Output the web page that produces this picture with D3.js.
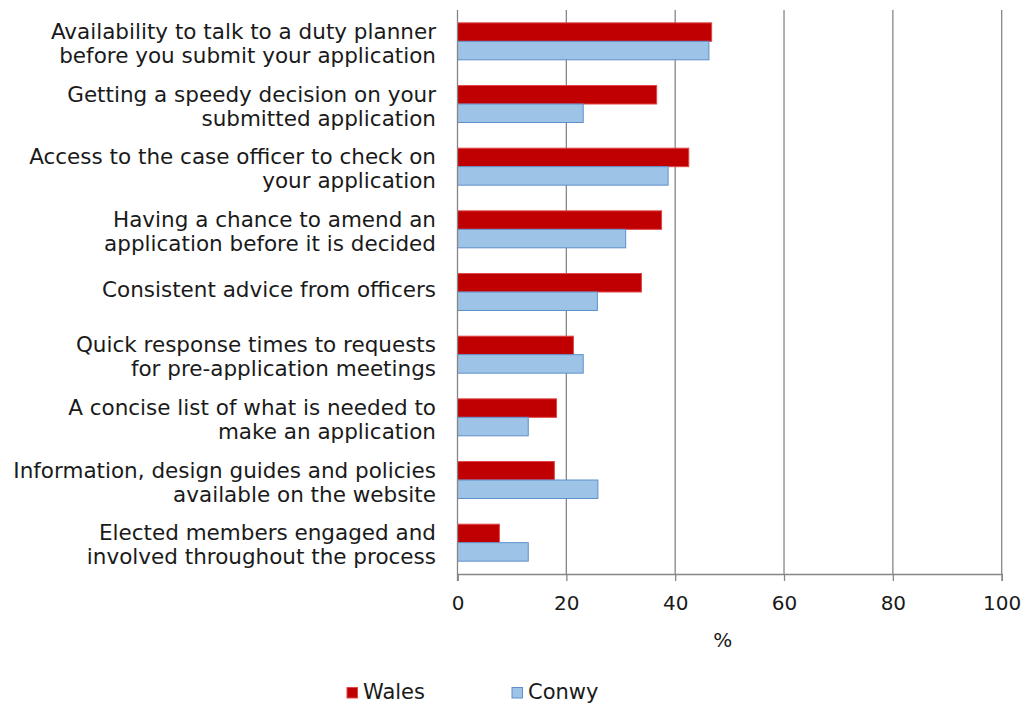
<!DOCTYPE html>
<html>
<head>
<meta charset="utf-8">
<script src="https://cdn.jsdelivr.net/npm/d3@7"></script>
<style>
  body { margin: 0; background: #fff; }
  text { font-family: "DejaVu Sans", Verdana, sans-serif; fill: #1a1a1a; }
</style>
</head>
<body>
<div id="chart"></div>
<script>
const categories = [
    ["Availability to talk to a duty planner", "before you submit your application"],
    ["Getting a speedy decision on your", "submitted application"],
    ["Access to the case officer to check on", "your application"],
    ["Having a chance to amend an", "application before it is decided"],
    ["Consistent advice from officers"],
    ["Quick response times to requests", "for pre-application meetings"],
    ["A concise list of what is needed to", "make an application"],
    ["Information, design guides and policies", "available on the website"],
    ["Elected members engaged and", "involved throughout the process"]
];
const wales = [46.7, 36.6, 42.5, 37.5, 33.8, 21.3, 18.2, 17.8, 7.7];
const conwy = [46.2, 23.1, 38.7, 30.9, 25.7, 23.1, 13.0, 25.8, 13.0];
const xTicks = [0, 20, 40, 60, 80, 100];
const seriesNames = ["Wales", "Conwy"];

const width = 1027, height = 704;
const plotLeft = 457.5, plotRight = 1001.7, plotTop = 10, plotBottom = 574;

const svg = d3.select("#chart").append("svg")
    .attr("width", width).attr("height", height);

const x = d3.scaleLinear().domain([0, 100]).range([plotLeft, plotRight]);
const y = d3.scaleBand().domain(d3.range(categories.length)).range([plotTop, plotBottom]).paddingInner(0.41).paddingOuter(0.205);
const sub = d3.scaleBand().domain(seriesNames).range([0, y.bandwidth()]);

// gridlines
svg.append("g").selectAll("line")
    .data(xTicks.slice(1))
    .enter().append("line")
    .attr("x1", d => x(d)).attr("x2", d => x(d))
    .attr("y1", plotTop).attr("y2", plotBottom)
    .attr("stroke", "#868686").attr("stroke-width", 1.3);

// bars
const colors = { Wales: ["#c00000", "#e04848"], Conwy: ["#9dc3e6", "#5f8fcc"] };
seriesNames.forEach((s, si) => {
    const vals = si === 0 ? wales : conwy;
    svg.append("g").selectAll("rect")
        .data(vals)
        .enter().append("rect")
        .attr("x", x(0))
        .attr("y", (d, i) => y(i) + sub(s))
        .attr("width", d => x(d) - x(0))
        .attr("height", sub.bandwidth())
        .attr("fill", colors[s][0])
        .attr("stroke", colors[s][1])
        .attr("stroke-width", 1);
});

// x axis
const xAxis = svg.append("g")
    .attr("transform", `translate(0,${plotBottom})`)
    .call(d3.axisBottom(x).tickValues(xTicks).tickSize(7).tickPadding(15));
xAxis.select(".domain").attr("stroke", "#868686").attr("stroke-width", 1.3);
xAxis.selectAll(".tick line").attr("stroke", "#868686").attr("stroke-width", 1.3);
xAxis.selectAll(".tick text").style("font-size", "20px").attr("fill", "#1a1a1a");

// y axis line
svg.append("line")
    .attr("x1", plotLeft).attr("x2", plotLeft).attr("y1", plotTop).attr("y2", plotBottom + 7)
    .attr("stroke", "#868686").attr("stroke-width", 1.3);

// category labels
const lab = svg.append("g").selectAll("text")
    .data(categories)
    .enter().append("text")
    .attr("text-anchor", "end")
    .style("font-size", "21.5px")
    .attr("y", (d, i) => y(i) + y.bandwidth() / 2);
lab.each(function (lines) {
    const t = d3.select(this);
    const n = lines.length;
    lines.forEach((l, k) => {
        t.append("tspan")
            .attr("x", 436)
            .attr("dy", k === 0 ? (n === 1 ? 4.5 : -2.2) : 24)
            .text(l);
    });
});

// axis title
svg.append("text")
    .attr("x", 722.7).attr("y", 646.5)
    .attr("text-anchor", "middle")
    .style("font-size", "20px")
    .text("%");

// legend
const legendX = [347, 512];
seriesNames.forEach((s, i) => {
    const g = svg.append("g").attr("transform", `translate(${legendX[i]},687.5)`);
    g.append("rect").attr("width", 10.5).attr("height", 10.5)
        .attr("fill", colors[s][0]).attr("stroke", colors[s][1]);
    g.append("text").attr("x", 16).attr("y", 11)
        .style("font-size", "21px").text(s);
});
</script>
</body>
</html>
